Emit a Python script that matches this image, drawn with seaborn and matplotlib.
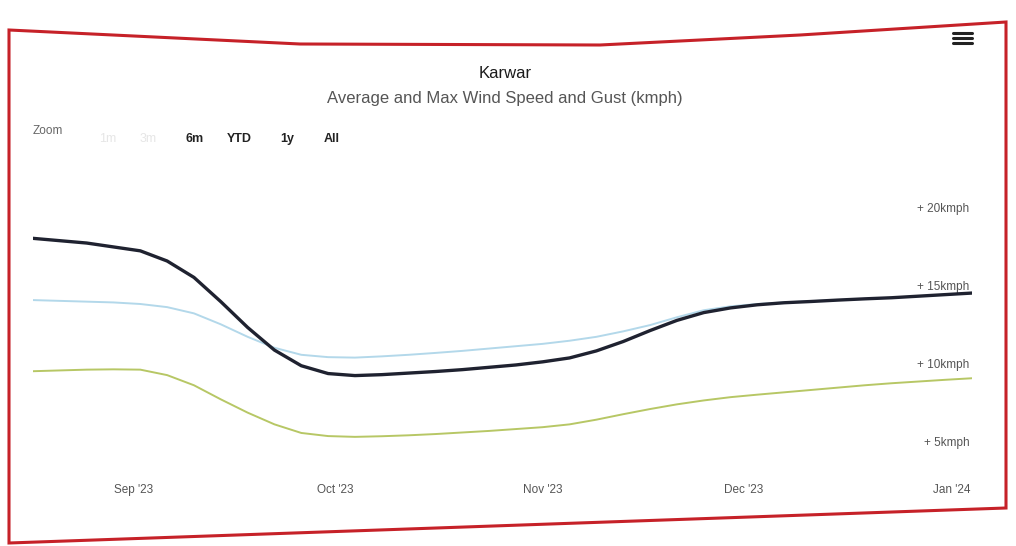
import matplotlib
matplotlib.use('Agg')
import matplotlib.pyplot as plt
from matplotlib.patches import Polygon
from matplotlib.lines import Line2D
import pandas as pd
import seaborn as sns

# readings every 4 days (kmph)
dates = pd.date_range('2023-08-17', '2024-01-04', freq='4D')
max_gust = [18.5, 18.35, 18.2, 17.95, 17.7, 17.05, 16.0, 14.45, 12.8, 11.35,
            10.35, 9.85, 9.72, 9.78, 9.88, 9.98, 10.1, 10.25, 10.4, 10.6,
            10.85, 11.3, 11.9, 12.6, 13.25, 13.75, 14.05, 14.25, 14.38, 14.46,
            14.55, 14.63, 14.7, 14.8, 14.9, 15.0]
max_wind = [14.55, 14.5, 14.45, 14.4, 14.3, 14.1, 13.7, 13.0, 12.2, 11.5,
            11.05, 10.9, 10.87, 10.95, 11.05, 11.17, 11.3, 11.45, 11.6, 11.75,
            11.95, 12.2, 12.55, 12.95, 13.45, 13.9, 14.15, 14.3, 14.4, 14.48,
            14.55, 14.63, 14.7, 14.8, 14.9, 15.0]
avg_wind = [10.0, 10.05, 10.1, 10.12, 10.1, 9.75, 9.1, 8.2, 7.35, 6.6,
            6.05, 5.85, 5.8, 5.84, 5.9, 5.98, 6.08, 6.18, 6.3, 6.42,
            6.6, 6.9, 7.25, 7.58, 7.88, 8.13, 8.34, 8.5, 8.65, 8.8,
            8.95, 9.1, 9.23, 9.34, 9.45, 9.55]

tick_dates = pd.to_datetime(['2023-09-01', '2023-10-01', '2023-11-01',
                             '2023-12-01', '2024-01-01'])
tick_labels = ["Sep '23", "Oct '23", "Nov '23", "Dec '23", "Jan '24"]
y_ticks = [5, 10, 15, 20]
y_labels = ['+ 5kmph', '+ 10kmph', '+ 15kmph', '+ 20kmph']
range_buttons = ['1m', '3m', '6m', 'YTD', '1y', 'All']

sns.set_style('white')
plt.rcParams['font.family'] = ['Liberation Sans', 'DejaVu Sans']

W, H = 1016, 546
fig = plt.figure(figsize=(W / 100, H / 100), dpi=100)
fig.patch.set_facecolor('white')


def fx(px):
    return px / W


def fy(py):
    return 1 - py / H


# plot area
ax = fig.add_axes([fx(33), fy(465), fx(972) - fx(33), fy(168) - fy(465)])
ax.set_facecolor('none')

sns.lineplot(x=dates, y=avg_wind, color='#b7c765', lw=1.4, ax=ax)
sns.lineplot(x=dates, y=max_wind, color='#b3d8ea', lw=1.4, ax=ax)
sns.lineplot(x=dates, y=max_gust, color='#1f2230', lw=2.4, ax=ax)

ax.set_xlim(dates[0], dates[-1])
ax.set_ylim(4, 23)
for s in ax.spines.values():
    s.set_visible(False)
ax.set_xlabel('')
ax.set_ylabel('')

ax.set_xticks(tick_dates)
ax.set_xticklabels(tick_labels, color='#555555', fontsize=8.5)
ax.tick_params(axis='x', length=0, pad=14)

ax.yaxis.tick_right()
ax.set_yticks(y_ticks)
ax.set_yticklabels(y_labels, color='#555555', fontsize=8.5, ha='right', va='bottom')
ax.tick_params(axis='y', length=0, pad=-2)

# titles
fig.text(fx(505), fy(73), 'Karwar', ha='center', va='center',
         fontsize=12, color='#1a1a1a')
fig.text(fx(505), fy(98), 'Average and Max Wind Speed and Gust (kmph)',
         ha='center', va='center', fontsize=12, color='#555555')

# range selector
fig.text(fx(33), fy(131), 'Zoom', ha='left', va='center', fontsize=8.5, color='#666666')
btn_x = [108, 148, 195, 239, 287, 332]
for lab, bx in zip(range_buttons, btn_x):
    faded = lab in ('1m', '3m')
    fig.text(fx(bx), fy(139), lab, ha='center', va='center', fontsize=9,
             color='#e6e6e6' if faded else '#222222',
             fontweight='normal' if faded else 'bold')

# menu icon
for k in range(3):
    yy = fy(33 + k * 5)
    fig.add_artist(Line2D([fx(953), fx(972)], [yy, yy], color='#222222', lw=2.2))

# red frame round the chart
frame = Polygon([(fx(9), fy(30)), (fx(300), fy(44)), (fx(600), fy(45)),
                 (fx(800), fy(35)), (fx(1006), fy(22)), (fx(1006), fy(508)),
                 (fx(9), fy(543))], closed=True, fill=False,
                edgecolor='#c62128', lw=2.2, transform=fig.transFigure)
fig.add_artist(frame)

fig.savefig('out.png', dpi=100)
